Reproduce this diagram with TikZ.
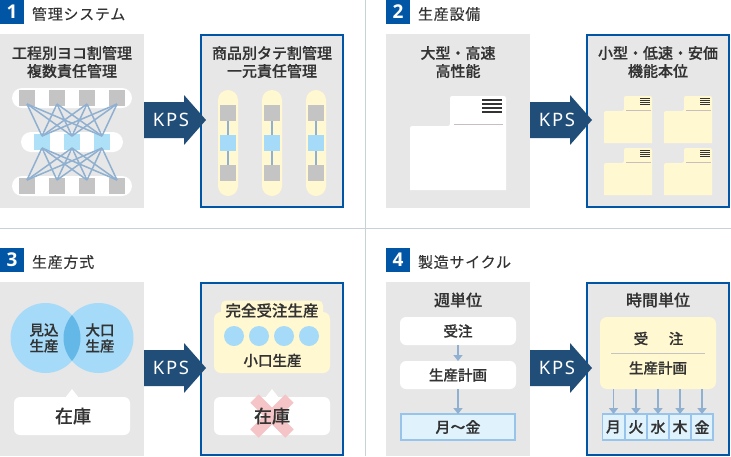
\documentclass[tikz,border=0pt]{standalone}
\usepackage{fontspec}
\usetikzlibrary{arrows.meta}
\newfontfamily\jp[FakeBold=0.35]{Noto Sans CJK JP Medium}
\newfontfamily\jpsp[LetterSpace=5,FakeBold=0.15]{Noto Sans CJK JP}
\newfontfamily\lat[LetterSpace=9]{Noto Sans}
\newfontfamily\numfont{Open Sans}
\definecolor{panelgray}{HTML}{E7E7E7}
\definecolor{kblue}{HTML}{0055A5}
\definecolor{arrowblue}{HTML}{214E78}
\definecolor{cream}{HTML}{FFF8D0}
\definecolor{sqgray}{HTML}{C4C4C4}
\definecolor{sqblue}{HTML}{AEE0F8}
\definecolor{sky}{HTML}{A5DAF8}
\definecolor{lens}{HTML}{64B8E8}
\definecolor{link}{HTML}{8FB0D0}
\definecolor{ink}{HTML}{333333}
\definecolor{rule}{HTML}{C8D0D8}
\definecolor{pinkline}{HTML}{C8BEBE}
\definecolor{cellblue}{HTML}{E0F3FD}
\definecolor{cellline}{HTML}{98C4EC}
\definecolor{crosspink}{HTML}{F5C4C6}
\tikzset{
  x=1pt,y=-1pt,
  base/.style={inner sep=0pt,outer sep=0pt},
  numbox/.style={base,fill=kblue,text=white,minimum size=24pt,font=\numfont\bfseries\fontsize{19}{19}\selectfont},
  heading/.style={base,anchor=west,text=ink,font=\jpsp\fontsize{15}{18}\selectfont},
  paneltitle/.style={base,align=center,text=ink,font=\jp\fontsize{15}{18}\selectfont},
  bigtitle/.style={base,align=center,text=ink,font=\jp\fontsize{16}{18}\selectfont},
  bodytext/.style={base,align=center,text=ink,font=\jp\fontsize{14.5}{16}\selectfont},
  stocktext/.style={base,text=ink,font=\jp\fontsize{18}{18}\selectfont},
  before/.style={base,fill=panelgray,minimum width=144pt,minimum height=174pt},
  after/.style={base,fill=panelgray,draw=kblue,line width=2pt,minimum width=142pt,minimum height=172pt},
  kps/.style={base,text=white,font=\lat\fontsize{18.5}{18}\selectfont},
  pill/.style={base,fill=white,rounded corners=10pt,minimum height=20pt},
  vpill/.style={base,fill=cream,rounded corners=10pt,minimum width=20pt,minimum height=106pt},
  graysq/.style={base,fill=sqgray,minimum size=16pt},
  bluesq/.style={base,fill=sqblue,minimum size=16pt},
  link line/.style={draw=link,line width=1.5pt},
  flow/.style={draw=link,line width=1.5pt,-{Triangle[length=6pt,width=9pt]}},
  softbox/.style={base,fill=white,rounded corners=6pt,minimum width=116pt,minimum height=28pt},
  creambox/.style={base,fill=cream,rounded corners=7pt,minimum width=116pt},
  stockbox/.style={base,fill=white,rounded corners=6pt,minimum width=116pt,minimum height=38pt},
  cell/.style={base,fill=cellblue,draw=cellline,line width=1.5pt,text=ink,font=\jp\fontsize{15}{15}\selectfont},
  dot/.style={base,circle,fill=sky,minimum size=20pt},
  bigcircle/.style={base,circle,fill=sky,minimum size=70pt},
  tankrule/.style={line width=2pt},
  tankfill/.style={fill=white},
  tankmark/.style={line width=1pt},
  pics/tank/.style={code={
    \fill[tankfill] (-40,94) [rounded corners=2pt] -- (-40,30) -- (0,30) -- (0,0) -- (56,0) [sharp corners] -- (56,94) -- cycle;
    \foreach \yy in {4,8,12,16} \draw[ink,tankrule] (32,\yy) -- (52,\yy);
    \draw[pinkline,tankmark] (4,28) -- (53,28);
  }}
}
\newcommand{\kpsarrow}[3]{% x, y centre, name
  \fill[arrowblue] (#1,#2-18) -- (#1+40,#2-18) -- (#1+40,#2-25) -- (#1+62,#2) -- (#1+40,#2+25) -- (#1+40,#2+18) -- (#1,#2+18) -- cycle;
  \node[kps] (#3) at (#1+27,#2) {KPS};
}
\begin{document}
\begin{tikzpicture}
\useasboundingbox (0,0) rectangle (731,456);
\fill[white] (0,0) rectangle (731,456);
\coordinate (vtop) at (365.5,0); \coordinate (vbot) at (365.5,456);
\coordinate (hl) at (0,228.5); \coordinate (hr) at (731,228.5);
\draw[rule,line width=1pt] (vtop) -- (vbot);
\draw[rule,line width=1pt] (hl) -- (hr);

% ---------- headings
\node[numbox] (n1) at (12,12) {1};
\node[heading] (h1) at (32,14) {管理システム};
\node[numbox] (n2) at (398,12) {2};
\node[heading] (h2) at (418,14) {生産設備};
\node[numbox] (n3) at (12,260) {3};
\node[heading] (h3) at (32,262) {生産方式};
\node[numbox] (n4) at (398,260) {4};
\node[heading] (h4) at (418,262) {製造サイクル};

% ---------- panels
\node[before] (p1l) at (72,121) {};
\node[after] (p1r) at (272,121) {};
\node[before] (p2l) at (458,121) {};
\node[after] (p2r) at (658,121) {};
\node[before] (p3l) at (72,369) {};
\node[after] (p3r) at (272,369) {};
\node[before] (p4l) at (458,369) {};
\node[after] (p4r) at (658,369) {};
\kpsarrow{144}{120}{k1}
\kpsarrow{530}{120}{k2}
\kpsarrow{144}{368}{k3}
\kpsarrow{530}{368}{k4}

% ---------- panel 1 left
\node[paneltitle] at (72,62) {工程別ヨコ割管理\\複数責任管理};
\node[pill,minimum width=120pt] at (72,98) {};
\node[pill,minimum width=102pt] at (72,142) {};
\node[pill,minimum width=120pt] at (72,186) {};
\foreach \i/\xx in {1/27,2/57,3/87,4/117}{
  \node[graysq] (t\i) at (\xx,98) {};
  \node[graysq] (b\i) at (\xx,186) {};
}
\foreach \i/\xx in {1/42,2/72,3/102}
  \node[bluesq] (m\i) at (\xx,142) {};
\foreach \i in {1,2,3,4}\foreach \j in {1,2,3}{
  \draw[link line] ([yshift=2pt]t\i.south) -- ([yshift=-2pt]m\j.north);
  \draw[link line] ([yshift=2pt]m\j.south) -- ([yshift=-2pt]b\i.north);
}

% ---------- panel 1 right
\node[paneltitle] at (272,62) {商品別タテ割管理\\一元責任管理};
\foreach \i/\xx in {1/228,2/272,3/316}{
  \node[vpill] at (\xx,143) {};
  \node[graysq] (a\i) at (\xx,113) {};
  \node[base,fill=sky,minimum size=16pt] (c\i) at (\xx,143) {};
  \node[graysq] (d\i) at (\xx,173) {};
  \draw[link line,line width=2pt] (a\i) -- (c\i);
  \draw[link line,line width=2pt] (c\i) -- (d\i);
}

% ---------- panel 2
\node[paneltitle] at (458,62) {大型・高速\\高性能};
\pic at (450,96) {tank};
\node[paneltitle] at (658,62) {小型・低速・安価\\機能本位};
\foreach \xx in {624,684}\foreach \yy in {96,148}
  \pic[scale=.5,tankrule/.style={line width=1pt},tankfill/.style={fill=cream}] at (\xx,\yy) {tank};

% ---------- panel 3 left
\node[bigcircle] (cl) at (45.5,338) {};
\node[bigcircle] (cr) at (98.5,338) {};
\begin{scope}
  \clip (45.5,338) circle (35pt);
  \fill[lens] (98.5,338) circle (35pt);
\end{scope}
\node[bodytext] at (44,338) {見込\\生産};
\node[bodytext] at (100,338) {大口\\生産};
\fill[white] (65,398) -- (72,389) -- (79,398) -- cycle;
\node[stockbox] (s1) at (72,416) {};
\node[stocktext] at (73,416) {在庫};

% ---------- panel 3 right
\node[creambox,minimum height=61pt] (y3) at (272,342.5) {};
\node[base,fill=cream,rounded corners=5pt,minimum width=102pt,minimum height=20pt,text=ink,font=\jp\fontsize{15.5}{16}\selectfont] (full) at (272,310.5) {完全受注生産};
\foreach \i/\xx in {1/234,2/259,3/284,4/309}
  \node[dot] (dd\i) at (\xx,336) {};
\node[bodytext] at (272.5,360.5) {小口生産};
\fill[white] (265,398) -- (272,389) -- (279,398) -- cycle;
\node[stockbox] (s2) at (272,416) {};
\coordinate (xa) at (254.5,398.5); \coordinate (xb) at (289.5,433.5);
\coordinate (xc) at (289.5,398.5); \coordinate (xd) at (254.5,433.5);
\draw[crosspink,line width=12pt] (xa) -- (xb);
\draw[crosspink,line width=12pt] (xc) -- (xd);
\node[stocktext] at (272,416) {在庫};

% ---------- panel 4 left
\node[bigtitle] at (458,300) {週単位};
\node[softbox,bodytext] (o1) at (458,331) {受注};
\node[softbox,bodytext] (o2) at (458,375) {生産計画};
\node[cell,minimum width=114pt,minimum height=26pt] (o3) at (458,427) {月～金};
\draw[flow] (o1) -- (o2);
\draw[flow] (o2) -- (o3);

% ---------- panel 4 right
\node[bigtitle] at (658,300) {時間単位};
\node[creambox,minimum height=72pt] (y4) at (658,353) {};
\node[bodytext] (ju) at (641,338.5) {受};
\node[bodytext] (chu) at (676,338.5) {注};
\coordinate (sa) at (611,353.5); \coordinate (sb) at (705,353.5);
\draw[sqgray,line width=1pt] (sa) -- (sb);
\node[bodytext] at (658,368) {生産計画};
\foreach \i/\xx/\t in {1/613.5/月,2/636/火,3/658/水,4/680/木,5/702/金}{
  \node[cell,minimum width=22pt,minimum height=26pt] (w\i) at (\xx,427) {\t};
  \coordinate (w\i top) at (\xx,389);
  \draw[flow] (w\i top) -- (w\i.north);
}
\end{tikzpicture}
\end{document}
